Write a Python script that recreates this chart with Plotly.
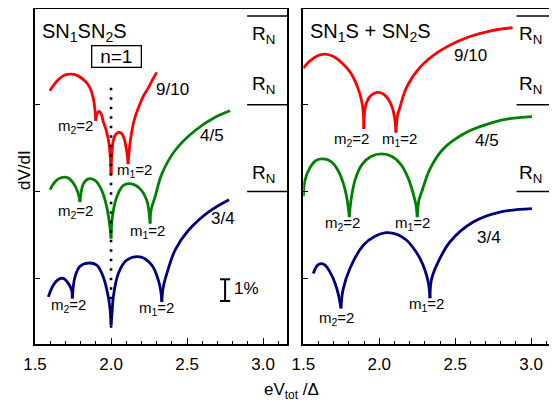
import plotly.graph_objects as go

# ---------------- data (x: eV_tot/Δ, y: dV/dI in %, arbitrary offset) ----------------
# arcs separated by None (cusps)
L_RED_X = [1.597, 1.651, 1.695, 1.740, 1.783, 1.827, 1.860, 1.882, 1.895, 1.899, None,
           1.899, 1.908, 1.921, 1.9375, 1.947, 1.969, 1.987, 1.995, 2.0, None,
           2.0, 2.0046, 2.015, 2.0296, 2.048, 2.069, 2.086, 2.099, 2.107, 2.112, None,
           2.112, 2.122, 2.135, 2.151, 2.178, 2.211, 2.245, 2.273, 2.301]
L_RED_Y = [8.64, 9.14, 9.37, 9.41, 9.33, 9.10, 8.80, 8.34, 7.72, 7.26, None,
           7.26, 7.59, 7.69, 7.54, 7.26, 6.81, 6.19, 5.58, 4.78, None,
           4.78, 5.66, 6.35, 6.62, 6.73, 6.67, 6.44, 6.02, 5.66, 5.26, None,
           5.26, 6.07, 6.71, 7.26, 7.82, 8.37, 8.78, 9.15, 9.49]

L_GREEN_X = [1.599, 1.618, 1.645, 1.671, 1.697, 1.724, 1.750, 1.770, 1.785, 1.796, None,
             1.796, 1.803, 1.818, 1.851, 1.895, 1.939, 1.972, 1.993, 2.0, None,
             2.0, 2.0086, 2.0375, 2.081, 2.136, 2.191, 2.235, 2.248, 2.257, None,
             2.257, 2.263, 2.289, 2.334, 2.421, 2.553, 2.684, 2.783]
L_GREEN_Y = [4.08, 4.32, 4.53, 4.63, 4.66, 4.60, 4.41, 4.16, 3.89, 3.51, None,
             3.51, 3.95, 4.35, 4.58, 4.51, 4.05, 3.28, 2.36, 1.83, None,
             1.83, 2.82, 3.74, 4.28, 4.35, 4.12, 3.59, 3.13, 2.52, None,
             2.52, 3.13, 3.74, 4.81, 5.89, 6.81, 7.42, 7.72]

L_BLUE_X = [1.5875, 1.620, 1.653, 1.686, 1.719, 1.741, 1.745, None,
            1.745, 1.763, 1.796, 1.851, 1.906, 1.949, 1.982, 1.995, 2.0, None,
            2.0, 2.0079, 2.015, 2.048, 2.103, 2.191, 2.268, 2.311, 2.326, 2.334, None,
            2.334, 2.342, 2.367, 2.421, 2.509, 2.640, 2.776]
L_BLUE_Y = [-0.86, -0.32, -0.06, -0.01, -0.24, -0.55, -0.93, None,
            -0.93, 0.06, 0.55, 0.70, 0.60, 0.06, -0.86, -1.56, -2.16, None,
            -2.16, -1.47, -0.86, 0.22, 0.83, 0.98, 0.60, -0.09, -0.55, -1.09, None,
            -1.09, -0.46, 0.22, 1.29, 2.21, 3.05, 3.62]

R_RED_X = [1.5, 1.544, 1.590, 1.643, 1.695, 1.763, 1.807, 1.840, 1.866, 1.884, 1.895, 1.899, None,
           1.899, 1.903, 1.916, 1.943, 1.985, 2.024, 2.057, 2.084, 2.100, 2.110, None,
           2.110, 2.120, 2.136, 2.180, 2.268, 2.399, 2.575, 2.750, 2.878]
R_RED_Y = [9.69, 10.02, 10.25, 10.33, 10.23, 9.87, 9.52, 9.10, 8.64, 8.18, 7.63, 6.88, None,
           6.88, 7.63, 8.09, 8.41, 8.57, 8.51, 8.28, 7.91, 7.45, 6.71, None,
           6.71, 7.49, 7.88, 8.80, 9.72, 10.48, 11.09, 11.43, 11.55]

R_GREEN_X = [1.5, 1.511, 1.544, 1.584, 1.632, 1.683, 1.729, 1.762, 1.785, 1.803, None,
             1.803, 1.814, 1.840, 1.886, 1.946, 2.016, 2.084, 2.143, 2.189, 2.222, 2.242, 2.250, None,
             2.250, 2.261, 2.279, 2.334, 2.421, 2.575, 2.750, 2.860, 3.005]
R_GREEN_Y = [3.77, 4.51, 5.10, 5.43, 5.50, 5.38, 4.97, 4.41, 3.77, 2.82, None,
             2.82, 3.59, 4.51, 5.24, 5.61, 5.73, 5.61, 5.24, 4.64, 3.95, 3.36, 2.82, None,
             2.82, 3.59, 3.97, 5.04, 5.96, 6.73, 7.19, 7.36, 7.45]

R_BLUE_X = [1.566, 1.584, 1.603, 1.621, 1.643, 1.676, 1.709, 1.732, 1.748, None,
            1.748, 1.761, 1.807, 1.895, 1.972, 2.044, 2.117, 2.180, 2.235, 2.268, 2.301, 2.324, 2.334, None,
            2.334, 2.343, 2.378, 2.465, 2.618, 2.794, 3.005]
R_BLUE_Y = [0.22, 0.51, 0.64, 0.67, 0.60, 0.28, -0.23, -0.78, -1.39, None,
            -1.39, -0.55, 0.45, 1.52, 1.93, 2.10, 2.02, 1.75, 1.29, 0.91, 0.37, -0.23, -0.92, None,
            -0.92, -0.09, 0.60, 1.67, 2.59, 3.05, 3.21]

X_TICKS = [1.5, 2.0, 2.5, 3.0]
X_TICK_TEXT = ["1.5", "2.0", "2.5", "3.0"]
Y_TICKS = [0, 4, 8]
RATIO_LABELS = ["9/10", "4/5", "3/4"]

# ---------------- styling ----------------
FONT = "Liberation Sans, Arial, sans-serif"
RED, GREEN, BLUE = "#ff0000", "#008000", "#000080"
LW = 2.8
# the page body has an 8px default margin: the figure is sized to fit the 557x406 window
PAGE_MARGIN = 8
W, H = 557 - PAGE_MARGIN, 406 - PAGE_MARGIN

def fx(px):  # window pixel x -> paper fraction
    return (px - PAGE_MARGIN) / W

def fy(py):  # window pixel y -> paper fraction
    return (H - (py - PAGE_MARGIN)) / H

fig = go.Figure()

def add_curve(xs, ys, color, xa, ya):
    fig.add_trace(go.Scatter(x=xs, y=ys, mode="lines", xaxis=xa, yaxis=ya,
                             line=dict(color=color, width=LW, shape="spline", smoothing=1.0),
                             connectgaps=False, showlegend=False, hoverinfo="skip"))

add_curve(L_RED_X, L_RED_Y, RED, "x", "y")
add_curve(L_GREEN_X, L_GREEN_Y, GREEN, "x", "y")
add_curve(L_BLUE_X, L_BLUE_Y, BLUE, "x", "y")
add_curve(R_RED_X, R_RED_Y, RED, "x2", "y2")
add_curve(R_GREEN_X, R_GREEN_Y, GREEN, "x2", "y2")
add_curve(R_BLUE_X, R_BLUE_Y, BLUE, "x2", "y2")

XR = [1.5, 3.157]
YR = [-3.034, 12.414]
ydom = [fy(344), fy(9)]

xcommon = dict(range=XR, showline=True, linecolor="black", linewidth=1.6, mirror=True,
               showgrid=False, zeroline=False, tickmode="array", tickvals=X_TICKS,
               ticktext=X_TICK_TEXT, ticks="inside", ticklen=6, tickwidth=1.4, tickcolor="black",
               minor=dict(dtick=0.1, tick0=1.5, ticks="inside", ticklen=3, tickwidth=1.2, tickcolor="black"),
               tickfont=dict(family=FONT, size=17, color="black"), ticklabelstandoff=4,
               automargin=False)
ycommon = dict(range=YR, domain=ydom, showline=True, linecolor="black", linewidth=1.6, mirror=True,
               showgrid=False, zeroline=False, tickmode="array", tickvals=Y_TICKS, ticks="inside",
               ticklen=5, tickwidth=1.2, tickcolor="black", showticklabels=False, automargin=False)

fig.update_layout(
    width=W, height=H, margin=dict(l=0, r=0, t=0, b=0, pad=0), autosize=False,
    paper_bgcolor="white", plot_bgcolor="white",
    font=dict(family=FONT, color="black"),
    xaxis=dict(domain=[fx(35), fx(287)], anchor="y", **xcommon),
    xaxis2=dict(domain=[fx(303.3), fx(555)], anchor="y2", **xcommon),
    yaxis=dict(anchor="x", **ycommon),
    yaxis2=dict(anchor="x2", **ycommon),
)

shapes = []
# dotted n=1 line at x = 2.0
shapes.append(dict(type="line", xref="x", yref="y", x0=2.0, x1=2.0, y0=8.78, y1=-2.48,
                   line=dict(color="black", width=2.6, dash="2.5px,7px")))
# R_N level lines
for xa, ya, x0 in (("x", "y", 2.895), ("x2", "y2", 2.904)):
    for yv in (12.09, 8.0, 4.0):
        shapes.append(dict(type="line", xref=xa, yref=ya, x0=x0, x1=3.157, y0=yv, y1=yv,
                           line=dict(color="black", width=1.5)))
# 1% scale bar
shapes.append(dict(type="line", xref="x", yref="y", x0=2.75, x1=2.75, y0=-0.05, y1=-1.05,
                   line=dict(color="black", width=2)))
for yv in (-0.05, -1.05):
    shapes.append(dict(type="line", xref="x", yref="y", x0=2.717, x1=2.783, y0=yv, y1=yv,
                       line=dict(color="black", width=2)))
fig.update_layout(shapes=shapes)

ann = []
def txt(text, x, y, xa="x", ya="y", size=15, xanchor="center", yanchor="middle", **kw):
    ann.append(dict(text=text, x=x, y=y, xref=xa, yref=ya, showarrow=False,
                    font=dict(family=FONT, size=size, color="black"),
                    xanchor=xanchor, yanchor=yanchor, **kw))

# panel titles
txt("SN<sub>1</sub>SN<sub>2</sub>S", 1.533, 11.35, size=20, xanchor="left")
txt("SN<sub>1</sub>S + SN<sub>2</sub>S", 1.531, 11.35, "x2", "y2", size=20, xanchor="left")
# n=1 box
txt("n=1", 2.033, 10.21, size=19, bordercolor="black", borderwidth=1.3, borderpad=0,
    width=48, height=20)
# ratio labels
txt(RATIO_LABELS[0], 2.405, 8.69, size=17)
txt(RATIO_LABELS[1], 2.664, 6.58, size=17)
txt(RATIO_LABELS[2], 2.737, 2.76, size=17)
txt(RATIO_LABELS[0], 2.603, 10.25, "x2", "y2", size=17)
txt(RATIO_LABELS[1], 2.709, 6.35, "x2", "y2", size=17)
txt(RATIO_LABELS[2], 2.722, 1.89, "x2", "y2", size=17)
# m labels
M2 = "m<sub>2</sub>=2"
M1 = "m<sub>1</sub>=2"
txt(M2, 1.763, 6.99)
txt(M1, 2.151, 4.97)
txt(M2, 1.763, 3.08)
txt(M1, 2.237, 2.16)
txt(M2, 1.720, -1.24)
txt(M1, 2.301, -1.38)
txt(M2, 1.817, 6.39, "x2", "y2")
txt(M1, 2.136, 6.39, "x2", "y2")
txt(M2, 1.761, 2.53, "x2", "y2")
txt(M1, 2.222, 2.53, "x2", "y2")
txt(M2, 1.718, -1.84, "x2", "y2")
txt(M1, 2.312, -1.20, "x2", "y2")
# R_N labels
for xa, ya, xv in (("x", "y", 3.0), ("x2", "y2", 2.998)):
    for yv in (11.2, 8.9, 4.8):
        txt("R<sub>N</sub>", xv, yv, xa, ya, size=19)
# 1%
txt("1%", 2.794, -0.46, size=17, xanchor="left")
# axis titles
ann.append(dict(text="dV/dI", x=fx(24), y=fy(170), xref="paper", yref="paper",
                showarrow=False, textangle=-90, font=dict(family=FONT, size=17, color="black"),
                xanchor="center", yanchor="middle"))
ann.append(dict(text="eV<sub>tot</sub> /Δ", x=fx(291), y=fy(391), xref="paper", yref="paper",
                showarrow=False, font=dict(family=FONT, size=17, color="black"),
                xanchor="center", yanchor="middle"))
fig.update_layout(annotations=ann)

fig.write_html("out.html")
